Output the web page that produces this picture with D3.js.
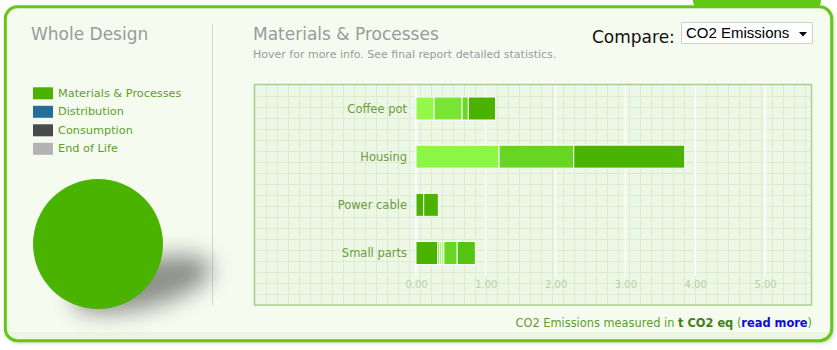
<!DOCTYPE html>
<html><head><meta charset="utf-8">
<script src="https://cdn.jsdelivr.net/npm/d3@7/dist/d3.min.js"></script>
<style>
html,body{margin:0;padding:0;background:#fff;}
svg{display:block;font-family:"DejaVu Sans",Verdana,sans-serif;}
</style></head>
<body>
<svg id="chart" width="837" height="350"></svg>
<script>
// ---------- data ----------
const categories = ["Coffee pot", "Housing", "Power cable", "Small parts"];
const coffeePot  = [0.26, 0.40, 0.09, 0.39];
const housing    = [1.19, 1.07, 1.59];
const powerCable = [0.11, 0.21];
const smallParts = [0.31, 0.03, 0.03, 0.03, 0.19, 0.26];
const seriesValues = [coffeePot, housing, powerCable, smallParts];
const xTicks = [0, 1, 2, 3, 4, 5];
const legendLabels = ["Materials & Processes", "Distribution", "Consumption", "End of Life"];
const wholeDesign = [6.74, 0, 0, 0];

// ---------- styles ----------
const segColors = [
  ["#94f84b", "#78e534", "#6bd828", "#4ab300"],
  ["#8cf645", "#66d622", "#4ab300"],
  ["#4ab300", "#4ab300"],
  ["#4ab300", "#8cf645", "#8cf645", "#8cf645", "#66d622", "#55c311"]
];
const legendColors = ["#4ab300", "#236f99", "#4a4a4a", "#b3b3b3"];

const svg = d3.select("#chart");
const defs = svg.append("defs");

const ps = defs.append("filter").attr("id","pshadow").attr("x","-5%").attr("y","-5%").attr("width","110%").attr("height","115%");
ps.append("feDropShadow").attr("dx",1.5).attr("dy",2).attr("stdDeviation",2.2).attr("flood-color","#000").attr("flood-opacity",0.22);

const blur = defs.append("filter").attr("id","blur").attr("x","-60%").attr("y","-100%").attr("width","220%").attr("height","300%");
blur.append("feGaussianBlur").attr("stdDeviation",11);

const clip = defs.append("clipPath").attr("id","pclip");
clip.append("rect").attr("x",5.3).attr("y",6.8).attr("width",826.4).attr("height",333.9).attr("rx",12);

const green = "#62c814";

// top tab
svg.append("rect").attr("x",693).attr("y",-20).attr("width",128).attr("height",30).attr("rx",9).attr("fill",green);

// panel
svg.append("rect").attr("x",5.3).attr("y",6.8).attr("width",826.4).attr("height",333.9).attr("rx",12)
  .attr("fill","#f6fbf0").attr("filter","url(#pshadow)");
svg.append("rect").attr("clip-path","url(#pclip)").attr("x",0).attr("y",332).attr("width",837).attr("height",20).attr("fill","#ebf5e2");
svg.append("rect").attr("x",5.3).attr("y",6.8).attr("width",826.4).attr("height",333.9).attr("rx",12)
  .attr("fill","none").attr("stroke",green).attr("stroke-width",3);

// divider
svg.append("line").attr("x1",212.5).attr("x2",212.5).attr("y1",24).attr("y2",305).attr("stroke","#d3dbcd").attr("stroke-width",1);

// titles
svg.append("text").attr("x",31).attr("y",40).attr("font-size",17).attr("fill","#9a9a9a").text("Whole Design");
svg.append("text").attr("x",253).attr("y",40).attr("font-size",17).attr("fill","#9a9a9a").text("Materials & Processes");
svg.append("text").attr("x",253).attr("y",58).attr("font-size",11).attr("fill","#9a9a9a")
  .text("Hover for more info. See final report detailed statistics.");

// compare select
svg.append("text").attr("x",592).attr("y",43).attr("font-size",17).attr("fill","#111").text("Compare:");
svg.append("rect").attr("x",681.5).attr("y",22.5).attr("width",131).attr("height",21).attr("fill","#fff").attr("stroke","#cfcfcf");
svg.append("text").attr("x",686).attr("y",37.5).attr("font-size",15).attr("font-family","'Liberation Sans',Arial,sans-serif").attr("fill","#000").text("CO2 Emissions");
svg.append("path").attr("d","M799,32 L807,32 L803,36.5 Z").attr("fill","#000");

// legend
const lg = svg.append("g");
legendLabels.forEach((l,i)=>{
  const y0 = 87.3 + i*18.5;
  lg.append("rect").attr("x",33).attr("y",y0).attr("width",20).attr("height",12).attr("fill",legendColors[i]);
  lg.append("text").attr("x",58).attr("y",y0+9.6).attr("font-size",11.3).attr("fill","#5d9e2a").text(l);
});

// pie
const cx = 98, cy = 244, r = 65;
svg.append("ellipse").attr("cx",142).attr("cy",284).attr("rx",72).attr("ry",24)
  .attr("transform","rotate(-14,142,284)")
  .attr("fill","#000").attr("opacity",0.42).attr("filter","url(#blur)");
const pie = d3.pie().sort(null)(wholeDesign);
const arc = d3.arc().innerRadius(0).outerRadius(r);
svg.append("g").attr("transform",`translate(${cx},${cy})`).selectAll("path").data(pie).join("path")
  .attr("d",arc).attr("fill",(d,i)=>legendColors[i]);

// plot area
const px0 = 254.5, py0 = 84.5, pw = 557, ph = 220.5;
svg.append("rect").attr("x",px0).attr("y",py0).attr("width",pw).attr("height",ph).attr("fill","#edf7e6");
const grid = svg.append("g").attr("stroke","#dcecd0").attr("stroke-width",1);
for (let gx = 266.5; gx < px0+pw; gx += 11) grid.append("line").attr("x1",gx).attr("x2",gx).attr("y1",py0).attr("y2",py0+ph);
for (let gy = 96.5; gy < py0+ph; gy += 11) grid.append("line").attr("x1",px0).attr("x2",px0+pw).attr("y1",gy).attr("y2",gy);

const x = d3.scaleLinear().domain([0,5]).range([416,765]);
const y = d3.scalePoint().domain(categories).range([108.5,253]);

// major white grid lines
svg.append("g").selectAll("line").data(xTicks).join("line")
  .attr("x1",d=>x(d)).attr("x2",d=>x(d)).attr("y1",py0+1).attr("y2",276)
  .attr("stroke","#fff").attr("stroke-width",1.5);

svg.append("rect").attr("x",px0).attr("y",py0).attr("width",pw).attr("height",ph).attr("fill","none").attr("stroke","#a7d08b").attr("stroke-width",1.5);

// axis
const xAxis = d3.axisBottom(x).tickValues(xTicks).tickFormat(d3.format(".2f")).tickSize(0).tickPadding(0);
const ax = svg.append("g").attr("transform","translate(0,281)").call(xAxis);
ax.select(".domain").remove();
ax.selectAll("text").attr("font-size",10).attr("fill","#b7d3a2").attr("font-family","'DejaVu Sans',Verdana,sans-serif").attr("dy","0.71em");

// category labels
svg.append("g").selectAll("text").data(categories).join("text")
  .attr("x",407).attr("y",d=>y(d)).attr("dy","0.36em").attr("text-anchor","end")
  .attr("font-size",11.5).attr("fill","#6b9d3a").text(d=>d);

// bars
const barH = 23;
categories.forEach((c,ci)=>{
  let cum = 0;
  const segs = seriesValues[ci].map((v,si)=>{ const s = {x0:cum, v, color:segColors[ci][si]}; cum += v; return s; });
  svg.append("g").selectAll("rect").data(segs).join("rect")
    .attr("x",d=>x(d.x0)).attr("width",d=>x(d.x0+d.v)-x(d.x0))
    .attr("y",y(c)-barH/2).attr("height",barH)
    .attr("fill",d=>d.color).attr("stroke","#fff").attr("stroke-width",1);
});

// footnote
const fn = svg.append("text").attr("x",812).attr("y",327).attr("text-anchor","end").attr("font-size",11.4).attr("fill","#5d9e2a");
fn.append("tspan").text("CO2 Emissions measured in ");
fn.append("tspan").attr("font-weight","bold").attr("fill","#3f7f1a").text("t CO2 eq");
fn.append("tspan").text(" (");
fn.append("tspan").attr("font-weight","bold").attr("fill","#0a0ae0").text("read more");
fn.append("tspan").text(")");
</script>
</body></html>
